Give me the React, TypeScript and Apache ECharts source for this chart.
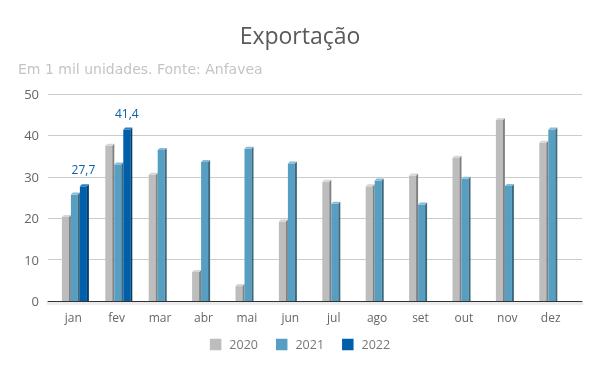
import React, { useEffect, useRef } from "react";
import * as echarts from "echarts";

const months = ["jan", "fev", "mar", "abr", "mai", "jun", "jul", "ago", "set", "out", "nov", "dez"];
const years = ["2020", "2021", "2022"];
const v2020 = [20.3, 37.5, 30.5, 7.0, 3.6, 19.2, 28.8, 27.7, 30.3, 34.6, 43.7, 38.2];
const v2021 = [25.7, 33.0, 36.5, 33.6, 36.8, 33.2, 23.5, 29.1, 23.3, 29.5, 27.8, 41.4];
const v2022 = [27.7, 41.4];
const yTicks = { min: 0, max: 50, interval: 10 };

const palette = [
  { front: "#bdbdbd", side: "#808080", top: "#d6d6d6" },
  { front: "#569ec2", side: "#3a687e", top: "#86bcd8" },
  { front: "#005fa8", side: "#00406f", top: "#2f7fc2" },
];

export default function App() {
  const ref = useRef<HTMLDivElement>(null);
  useEffect(() => {
    if (!ref.current) return;
    const chart = echarts.init(ref.current, undefined, { renderer: "svg" });
    const font = "'Open Sans', 'Noto Sans', sans-serif";
    const seriesData = [v2020, v2021, v2022];

    const makeRender = (s: number, withLabel: boolean) => (params: any, api: any) => {
      const idx = api.value(0);
      const val = api.value(1);
      const top = api.coord([idx, val]);
      const base = api.coord([idx, 0]);
      const w = 7;
      const d = 2;
      const x0 = top[0] - 2.4 + (s - 1) * 9;
      const yt = top[1];
      const yb = base[1];
      const c = palette[s];
      const children: any[] = [
        { type: "rect", shape: { x: x0, y: yt, width: w, height: yb - yt }, style: { fill: c.front } },
        {
          type: "polygon",
          shape: { points: [[x0 + w, yt], [x0 + w + d, yt - d], [x0 + w + d, yb], [x0 + w, yb]] },
          style: { fill: c.side },
        },
        {
          type: "polygon",
          shape: { points: [[x0, yt], [x0 + w, yt], [x0 + w + d, yt - d], [x0 + d, yt - d]] },
          style: { fill: c.top },
        },
      ];
      if (withLabel) {
        children.push({
          type: "text",
          style: {
            text: val.toFixed(1).replace(".", ","),
            x: x0 + w / 2,
            y: yt - 16.5,
            align: "center",
            verticalAlign: "middle",
            fill: "#0a5fa6",
            font: `12px ${font}`,
          },
        });
      }
      return { type: "group", children };
    };

    chart.setOption({
      animation: false,
      title: [
        {
          text: "Exportação",
          left: "center",
          top: 18,
          textStyle: { fontFamily: font, fontSize: 23, fontWeight: "normal", color: "#5a5a5a" },
        },
        {
          text: "Em 1 mil unidades. Fonte: Anfavea",
          left: 13,
          top: 57,
          textStyle: { fontFamily: "'DejaVu Sans', sans-serif", fontSize: 14, fontWeight: "normal", color: "#c4c4c4" },
        },
      ],
      legend: {
        bottom: 15,
        left: "center",
        icon: "rect",
        itemWidth: 11.5,
        itemHeight: 11.5,
        itemGap: 18,
        data: years,
        textStyle: { fontFamily: font, fontSize: 12.5, color: "#777", padding: [0, 0, 0, 3] },
      },
      grid: [
        { left: 51.6, right: 27.6, top: 94, bottom: 70 },
        { left: 48, right: 18, top: 94, bottom: 70 },
      ],
      xAxis: [
        {
          type: "category",
          gridIndex: 0,
          data: months,
          axisLine: { show: false },
          axisTick: { show: false },
          axisLabel: { fontFamily: font, fontSize: 12, color: "#666", margin: 10 },
        },
        {
          type: "category",
          gridIndex: 1,
          data: months,
          axisLine: { show: true, lineStyle: { color: "#333", width: 1 } },
          axisTick: { show: false },
          axisLabel: { show: false },
          z: 5,
        },
        {
          type: "category",
          gridIndex: 1,
          data: months,
          position: "bottom",
          offset: 2,
          axisLine: { show: true, lineStyle: { color: "#ececec", width: 3 } },
          axisTick: { show: false },
          axisLabel: { show: false },
        },
      ],
      yAxis: [
        {
          type: "value",
          gridIndex: 0,
          ...yTicks,
          show: false,
          splitLine: { show: false },
        },
        {
          type: "value",
          gridIndex: 1,
          ...yTicks,
          axisLine: { show: false },
          axisTick: { show: false },
          axisLabel: { fontFamily: font, fontSize: 13, color: "#666", margin: 9 },
          splitLine: { lineStyle: { color: "#cccccc", width: 1 } },
        },
      ],
      series: seriesData.map((arr, s) => ({
        name: years[s],
        type: "custom",
        xAxisIndex: 0,
        yAxisIndex: 0,
        itemStyle: { color: palette[s].front },
        renderItem: makeRender(s, s === 2),
        encode: { x: 0, y: 1 },
        data: arr.map((v, i) => [i, v]),
        z: 10,
      })),
    });
    return () => chart.dispose();
  }, []);
  return <div ref={ref} style={{ position: "fixed", left: 0, top: 0, width: 600, height: 371 }} />;
}
